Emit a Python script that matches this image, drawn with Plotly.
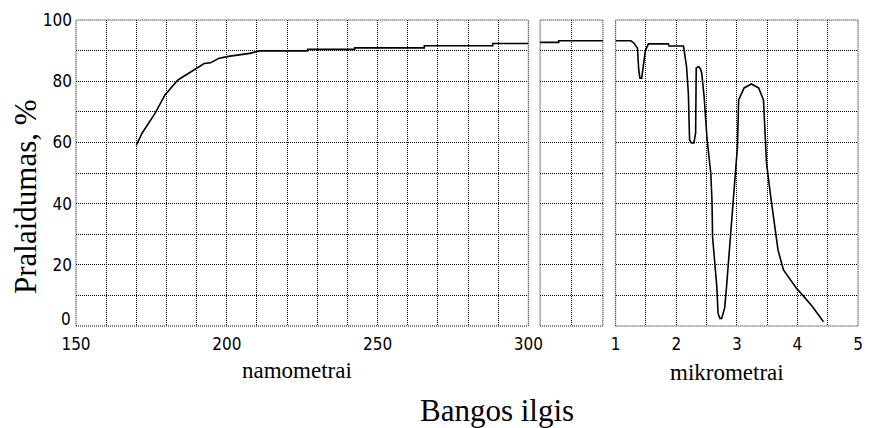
import plotly.graph_objects as go

# ---- data ----
nm_uv = [170, 171.9, 176.2, 179.5, 183.8, 189.3, 192.5, 194.6, 197.4, 201.1, 207.6,
         210.9, 226.8, 226.8, 242.4, 242.4, 265.5, 265.5, 288.2, 288.2, 300]
t_uv = [59.0, 63.0, 69.5, 75.5, 80.4, 83.7, 85.8, 86.0, 87.5, 88.2, 89.1,
        89.9, 89.9, 90.4, 90.4, 90.9, 90.9, 91.6, 91.6, 92.3, 92.3]

nm_vis = [300, 508, 508, 1000]
t_vis = [92.7, 92.7, 93.2, 93.2]

um_ir = [1.0, 1.25, 1.30, 1.36, 1.38, 1.40, 1.43, 1.46, 1.49, 1.54, 1.87, 1.88, 2.12,
         2.17, 2.20, 2.22, 2.25, 2.29, 2.32, 2.33, 2.37, 2.40, 2.42, 2.46, 2.51,
         2.57, 2.59, 2.60, 2.67, 2.69, 2.72, 2.75, 2.78, 2.80, 2.83, 2.90, 2.94,
         2.96, 3.01, 3.03, 3.12, 3.24, 3.36, 3.44, 3.46, 3.49, 3.56, 3.60, 3.68,
         3.77, 3.98, 4.09, 4.25, 4.43]
t_ir = [93.2, 93.2, 92.5, 90.8, 84.0, 81.0, 81.0, 85.0, 90.0, 92.2, 92.2, 91.5, 91.5,
        84.8, 76.0, 60.8, 59.8, 59.8, 63.0, 84.3, 84.8, 84.0, 82.7, 75.0, 60.8,
        50.0, 41.0, 29.0, 12.8, 4.2, 2.5, 2.5, 4.5, 6.0, 12.8, 30.0, 41.8,
        46.7, 58.5, 73.9, 77.8, 79.1, 77.8, 73.9, 63.0, 53.2, 42.2, 36.8, 24.8,
        18.3, 12.4, 10.0, 6.3, 1.4]

uv_ticks = [150, 200, 250, 300]
ir_ticks = [1, 2, 3, 4, 5]
y_ticks = [0, 20, 40, 60, 80, 100]

y_title = "Pralaidumas, %"
x_title_uv = "namometrai"
x_title_ir = "mikrometrai"
x_title_main = "Bangos ilgis"

# ---- figure ----
W, H = 876, 428
L, R, T, B = 76, 3, 20, 102
pw, ph = W - L - R, H - T - B

def px_x(px):
    return (px - L) / pw

def px_y(py):
    return (H - B - py) / ph

DOT = "1px,1px"
tickfont = dict(family="Liberation Sans Narrow, Arial Narrow, DejaVu Sans Condensed, sans-serif",
                size=17, color="black")
serif = "Liberation Serif, Times New Roman, serif"

fig = go.Figure()
line = dict(color="black", width=1.6)
fig.add_trace(go.Scatter(x=nm_uv, y=t_uv, mode="lines", line=line, xaxis="x", yaxis="y"))
fig.add_trace(go.Scatter(x=nm_vis, y=t_vis, mode="lines", line=line, xaxis="x2", yaxis="y2"))
fig.add_trace(go.Scatter(x=um_ir, y=t_ir, mode="lines", line=line, xaxis="x3", yaxis="y3"))

grid = dict(showgrid=True, gridcolor="black", gridwidth=1, griddash=DOT,
            zeroline=False, showline=False, ticks="")
minor_grid = lambda d: dict(dtick=d, showgrid=True, gridcolor="black", gridwidth=1, griddash=DOT)

d1 = [0, px_x(537)]
d2 = [px_x(549), px_x(613)]
d3 = [px_x(626), 1]

# y labels: the "0" label sits slightly raised in the reference, drawn separately below
y_label_ticks = [v for v in y_ticks if v != 0]

fig.update_layout(
    width=W, height=H, margin=dict(l=L, r=R, t=T, b=B),
    paper_bgcolor="white", plot_bgcolor="white", showlegend=False,
    xaxis=dict(domain=d1, range=[150, 300], tickvals=uv_ticks, tickfont=tickfont,
               anchor="y", minor=minor_grid(10), ticklabelstandoff=6, **grid),
    xaxis2=dict(domain=d2, range=[300, 1000], tickvals=[650], showticklabels=False,
                anchor="y2", **grid),
    xaxis3=dict(domain=d3, range=[1, 5], tickvals=ir_ticks, tickfont=tickfont,
                anchor="y3", minor=minor_grid(0.5), ticklabelstandoff=6, **grid),
    yaxis=dict(range=[0, 100], tickvals=y_ticks,
               ticktext=[str(v) if v != 0 else "" for v in y_ticks],
               tickfont=tickfont, anchor="x",
               minor=minor_grid(10), ticklabelstandoff=3, **grid),
    yaxis2=dict(range=[0, 100], tickvals=y_ticks, showticklabels=False, anchor="x2",
                minor=minor_grid(10), **grid),
    yaxis3=dict(range=[0, 100], tickvals=y_ticks, showticklabels=False, anchor="x3",
                minor=minor_grid(10), **grid),
)

fig.add_annotation(text=str(y_ticks[0]), xref="paper", yref="y", x=px_x(73), y=y_ticks[0],
                   xanchor="right", yanchor="middle", yshift=7, showarrow=False,
                   font=tickfont)

for xr, yr in [("x", "y"), ("x2", "y2"), ("x3", "y3")]:
    fig.add_shape(type="rect", xref=f"{xr} domain", yref=f"{yr} domain",
                  x0=0, x1=1, y0=0, y1=1, line=dict(color="black", width=1, dash=DOT),
                  layer="below")

fig.add_annotation(text=x_title_uv, xref="paper", yref="paper", x=px_x(301), y=px_y(370),
                   xanchor="center", yanchor="middle", showarrow=False,
                   font=dict(family=serif, size=23, color="black"))
fig.add_annotation(text=x_title_ir, xref="paper", yref="paper", x=px_x(739), y=px_y(373),
                   xanchor="center", yanchor="middle", showarrow=False,
                   font=dict(family=serif, size=23, color="black"))
fig.add_annotation(text=x_title_main, xref="paper", yref="paper", x=px_x(505), y=px_y(411),
                   xanchor="center", yanchor="middle", showarrow=False,
                   font=dict(family=serif, size=31, color="black"))
fig.add_annotation(text=y_title, xref="paper", yref="paper", x=px_x(24), y=px_y(196),
                   xanchor="center", yanchor="middle", textangle=-90, showarrow=False,
                   font=dict(family=serif, size=31, color="black"))

fig.write_html("out.html")
